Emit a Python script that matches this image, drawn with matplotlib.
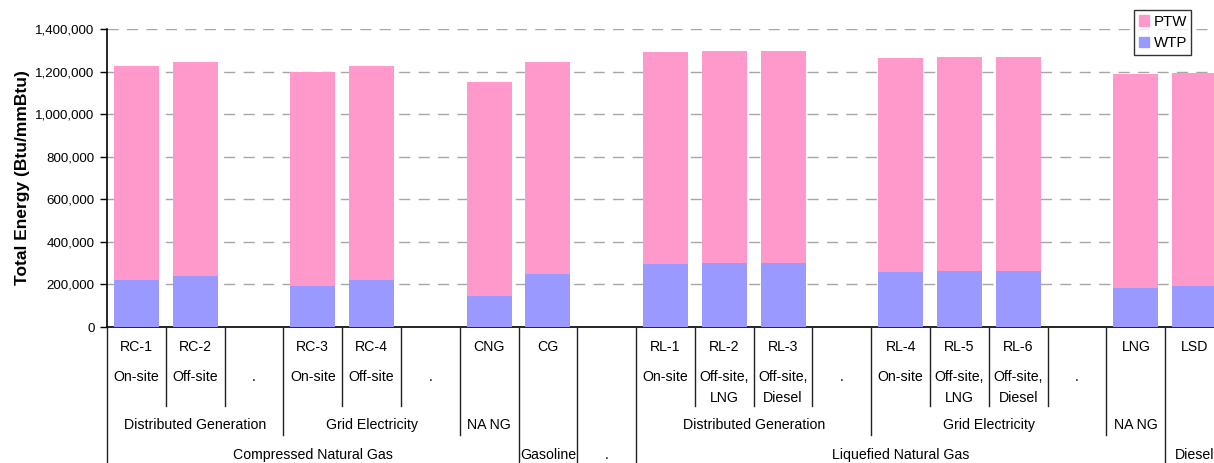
import matplotlib
matplotlib.use("Agg")
import matplotlib.pyplot as plt
from matplotlib.lines import Line2D
from matplotlib.patches import Patch
from matplotlib.transforms import blended_transform_factory
from matplotlib.ticker import FuncFormatter

plt.rcParams["font.family"] = ["Liberation Sans", "DejaVu Sans"]

# ---- data ----
codes = ["RC-1", "RC-2", "", "RC-3", "RC-4", "", "CNG", "CG", "",
         "RL-1", "RL-2", "RL-3", "", "RL-4", "RL-5", "RL-6", "", "LNG", "LSD"]
sublabels = ["On-site", "Off-site", ".", "On-site", "Off-site", ".", "", "", "",
             "On-site", "Off-site,\nLNG", "Off-site,\nDiesel", ".",
             "On-site", "Off-site,\nLNG", "Off-site,\nDiesel", ".", "", ""]
total = [1227500, 1246000, None, 1199000, 1227500, None, 1152000, 1246000, None,
         1293000, 1298000, 1298000, None, 1265000, 1270000, 1270000, None,
         1190000, 1195000]
wtp = [221000, 240000, None, 193000, 221000, None, 146000, 249000, None,
       296000, 301000, 301000, None, 259000, 263000, 263000, None,
       183000, 193000]

# level 2 groups: (label, first slot, last slot)
level2 = [("Distributed Generation", 0, 2), ("Grid Electricity", 3, 5), ("NA NG", 6, 6),
          ("Distributed Generation", 9, 12), ("Grid Electricity", 13, 16), ("NA NG", 17, 17)]
# level 3 groups
level3 = [("Compressed Natural Gas", 0, 6), ("Gasoline", 7, 7), (".", 8, 8),
          ("Liquefied Natural Gas", 9, 17), ("Diesel", 18, 18)]

# separator depth per slot boundary: 1 = short, 2 = to level 2, 3 = to bottom
sep_depth = [3, 1, 1, 2, 1, 1, 2, 3, 3, 3, 1, 1, 1, 2, 1, 1, 1, 2, 3, 3]

PTW_COLOR = "#FF99CC"
WTP_COLOR = "#9999FF"

W, H = 1214, 463
fig = plt.figure(figsize=(W / 100, H / 100), dpi=100)
ax = fig.add_axes([107 / W, 1 - 327 / H, (1224 - 107) / W, (327 - 29) / H])

n = len(codes)
xs = [i + 0.5 for i in range(n)]
bx = [x for x, t in zip(xs, total) if t is not None]
bw = [w for w in wtp if w is not None]
bp = [t - w for t, w in zip(total, wtp) if t is not None]

ax.bar(bx, bw, width=0.765, color=WTP_COLOR, zorder=3)
ax.bar(bx, bp, width=0.765, bottom=bw, color=PTW_COLOR, zorder=3)

ax.set_xlim(0, n)
ax.set_ylim(0, 1400000)
ax.set_yticks(range(0, 1400001, 200000))
ax.yaxis.set_major_formatter(FuncFormatter(lambda v, p: f"{int(v):,}"))
ax.tick_params(axis="y", direction="out", length=5, width=1, labelsize=9.6, pad=4)
ax.set_xticks([])
for y in range(200000, 1400001, 200000):
    ax.axhline(y, color="#A6A6A6", lw=1, ls=(0, (8, 6)), zorder=1)

for s in ["top", "right"]:
    ax.spines[s].set_visible(False)
ax.spines["left"].set_linewidth(1.2)
ax.spines["bottom"].set_linewidth(1.2)

ax.set_ylabel("Total Energy (Btu/mmBtu)", fontsize=12.5, fontweight="bold", labelpad=4)

# ---- multi-level category axis ----
tr = blended_transform_factory(ax.transData, fig.transFigure)


def fy(px):
    return 1 - px / H


depth_px = {1: 406, 2: 435, 3: 463}
for b, d in enumerate(sep_depth):
    fig.add_artist(Line2D([b, b], [fy(327), fy(depth_px[d])], transform=tr,
                          color="#222222", lw=1, clip_on=False))

fs = 10.2
for i in range(n):
    if codes[i]:
        ax.text(xs[i], fy(347), codes[i], transform=tr, ha="center", va="center",
                fontsize=fs, clip_on=False)
    if sublabels[i]:
        lines = sublabels[i].split("\n")
        for k, line in enumerate(lines):
            ax.text(xs[i], fy(377 + 21 * k), line, transform=tr, ha="center",
                    va="center", fontsize=fs, clip_on=False)

for label, a, b in level2:
    ax.text((a + b + 1) / 2, fy(425), label, transform=tr, ha="center", va="center",
            fontsize=fs, clip_on=False)
for label, a, b in level3:
    ax.text((a + b + 1) / 2, fy(455), label, transform=tr, ha="center", va="center",
            fontsize=fs, clip_on=False)

# ---- legend ----
handles = [Patch(color=PTW_COLOR, label="PTW"), Patch(color=WTP_COLOR, label="WTP")]
leg = fig.legend(handles=handles, loc="upper left", bbox_to_anchor=(1134 / W, 1 - 10 / H),
                 fontsize=10.8, frameon=True, fancybox=False, handlelength=0.7,
                 handleheight=0.7, handletextpad=0.3, borderpad=0.3, labelspacing=0.5,
                 borderaxespad=0)
leg.get_frame().set_edgecolor("black")
leg.get_frame().set_linewidth(1)

fig.savefig("out.png", dpi=100)
